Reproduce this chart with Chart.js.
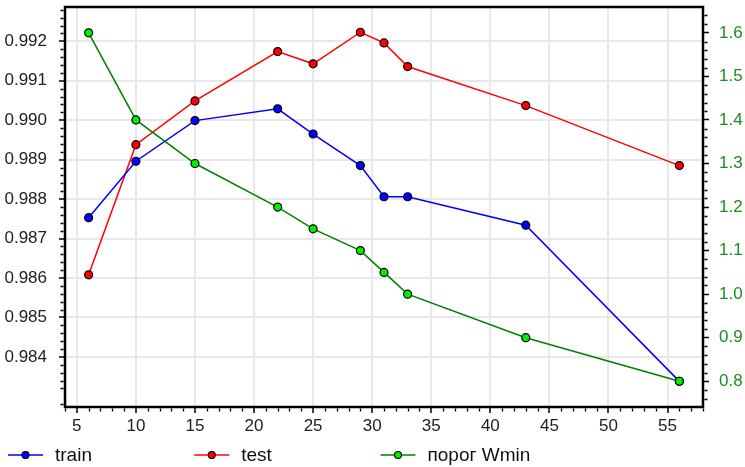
<!DOCTYPE html>
<html><head><meta charset="utf-8">
<script src="https://cdn.jsdelivr.net/npm/chart.js@4"></script>
<style>html,body{margin:0;padding:0;background:#fff}#wrap{width:745px;height:467px;position:relative}</style>
</head><body><div id="wrap"><canvas id="c"></canvas></div>
<script>
const xValues = [6, 10, 15, 22, 25, 29, 31, 33, 43, 56];
const trainValues = [0.98753, 0.98896, 0.98999, 0.99029, 0.98965, 0.98885, 0.98806, 0.98806, 0.98734, 0.98338];
const testValues = [0.98608, 0.98938, 0.99049, 0.99174, 0.99143, 0.99223, 0.99196, 0.99136, 0.99037, 0.98885];
const wminValues = [1.6, 1.4, 1.3, 1.2, 1.15, 1.1, 1.05, 1.0, 0.9, 0.8];
const seriesNames = ['train', 'test', 'порог Wmin'];
const xTicks = [5, 10, 15, 20, 25, 30, 35, 40, 45, 50, 55];
const leftTicks = [0.984, 0.985, 0.986, 0.987, 0.988, 0.989, 0.990, 0.991, 0.992];
const rightTicks = [0.8, 0.9, 1.0, 1.1, 1.2, 1.3, 1.4, 1.5, 1.6];

const FONT = 'Liberation Sans, Arial, sans-serif';
const lineColors = ['#0000ff', '#ff0000', '#008000'];
const fillColors = ['#0000ff', '#ff0000', '#00ee00'];
const rightColor = '#1e8c1e';

const pts = vals => xValues.map((x, i) => ({x, y: vals[i]}));

function mkDataset(i, vals, axis, order) {
  return {
    label: seriesNames[i], data: pts(vals), yAxisID: axis, order,
    borderColor: lineColors[i], borderWidth: 1.5, tension: 0,
    pointRadius: 4, pointHoverRadius: 4, pointBackgroundColor: fillColors[i],
    pointBorderColor: '#000', pointBorderWidth: 1.2, fill: false
  };
}

function minorTicks(majors, div, min, max) {
  const step = (majors[1] - majors[0]) / div;
  const out = [];
  for (let k = -200; k <= 200; k++) {
    if (k % div === 0) continue;
    const v = majors[0] + k * step;
    if (v >= min - 1e-9 && v <= max + 1e-9) out.push(v);
  }
  return out;
}

const noPad = s => { s.paddingTop = 0; s.paddingBottom = 0; s.paddingLeft = 0; s.paddingRight = 0; };

const extras = {
  id: 'extras',
  afterDraw(chart) {
    const {ctx, chartArea: a, scales} = chart;
    ctx.save();
    ctx.strokeStyle = '#000';
    ctx.lineWidth = 1.3;
    ctx.beginPath();
    minorTicks(leftTicks, 5, scales.y.min, scales.y.max).forEach(v => {
      const p = Math.round(scales.y.getPixelForValue(v)) + 0.5;
      ctx.moveTo(a.left - 4.5, p); ctx.lineTo(a.left - 1.5, p);
    });
    minorTicks(rightTicks, 5, scales.y2.min, scales.y2.max).forEach(v => {
      const p = Math.round(scales.y2.getPixelForValue(v)) + 0.5;
      ctx.moveTo(a.right + 1.5, p); ctx.lineTo(a.right + 4.5, p);
    });
    minorTicks(xTicks, 5, scales.x.min, scales.x.max).forEach(v => {
      const p = Math.round(scales.x.getPixelForValue(v)) + 0.5;
      ctx.moveTo(p, a.bottom + 1.5); ctx.lineTo(p, a.bottom + 4.5);
    });
    ctx.stroke();
    ctx.lineWidth = 2.5;
    ctx.strokeRect(a.left, a.top, a.right - a.left, a.bottom - a.top);
    // legend
    const colW = chart.width / 4;
    const ly = 455;
    ctx.font = '19px ' + FONT;
    ctx.textBaseline = 'middle';
    seriesNames.forEach((name, i) => {
      const x0 = 8 + i * colW;
      ctx.strokeStyle = lineColors[i];
      ctx.lineWidth = 1.5;
      ctx.beginPath(); ctx.moveTo(x0, ly); ctx.lineTo(x0 + 35, ly); ctx.stroke();
      ctx.beginPath(); ctx.arc(x0 + 17.5, ly, 3.5, 0, Math.PI * 2);
      ctx.fillStyle = fillColors[i]; ctx.fill();
      ctx.strokeStyle = '#000'; ctx.lineWidth = 1.1; ctx.stroke();
      ctx.fillStyle = '#111';
      ctx.fillText(name, x0 + 47, ly + 1);
    });
    ctx.restore();
  }
};

new Chart(document.getElementById('c'), {
  type: 'line',
  data: {
    datasets: [
      mkDataset(0, trainValues, 'y', 1),
      mkDataset(1, testValues, 'y', 2),
      mkDataset(2, wminValues, 'y2', 0)
    ]
  },
  options: {
    responsive: true, maintainAspectRatio: false, animation: false,
    layout: {padding: {top: 7, bottom: 30, left: 0, right: 0}},
    plugins: {legend: {display: false}, tooltip: {enabled: false}},
    scales: {
      x: {
        type: 'linear', min: 4, max: 58,
        afterBuildTicks: s => { s.ticks = xTicks.map(v => ({value: v})); },
        afterFit: s => { s.height = 30; noPad(s); },
        grid: {color: '#e8e8e8', lineWidth: 2, tickColor: '#000', tickLength: 6, tickWidth: 1.5},
        border: {display: false},
        ticks: {font: {family: FONT, size: 17}, color: '#222', padding: 3, maxRotation: 0,
          callback: v => String(v)}
      },
      y: {
        type: 'linear', position: 'left', min: 0.98273, max: 0.99287,
        afterBuildTicks: s => { s.ticks = leftTicks.map(v => ({value: v})); },
        afterFit: s => { s.width = 65; noPad(s); },
        grid: {color: '#e8e8e8', lineWidth: 2, tickColor: '#000', tickLength: 6, tickWidth: 1.5},
        border: {display: false},
        ticks: {font: {family: FONT, size: 17}, color: '#222', padding: 12,
          callback: v => Number(v).toFixed(3)}
      },
      y2: {
        type: 'linear', position: 'right', min: 0.7409, max: 1.6594,
        afterBuildTicks: s => { s.ticks = rightTicks.map(v => ({value: v})); },
        afterFit: s => { s.width = 42; noPad(s); },
        grid: {drawOnChartArea: false, tickColor: '#000', tickLength: 6, tickWidth: 1.5},
        border: {display: false},
        ticks: {font: {family: FONT, size: 17}, color: rightColor, padding: 10,
          callback: v => Number(v).toFixed(1)}
      }
    }
  },
  plugins: [extras]
});
</script></body></html>
